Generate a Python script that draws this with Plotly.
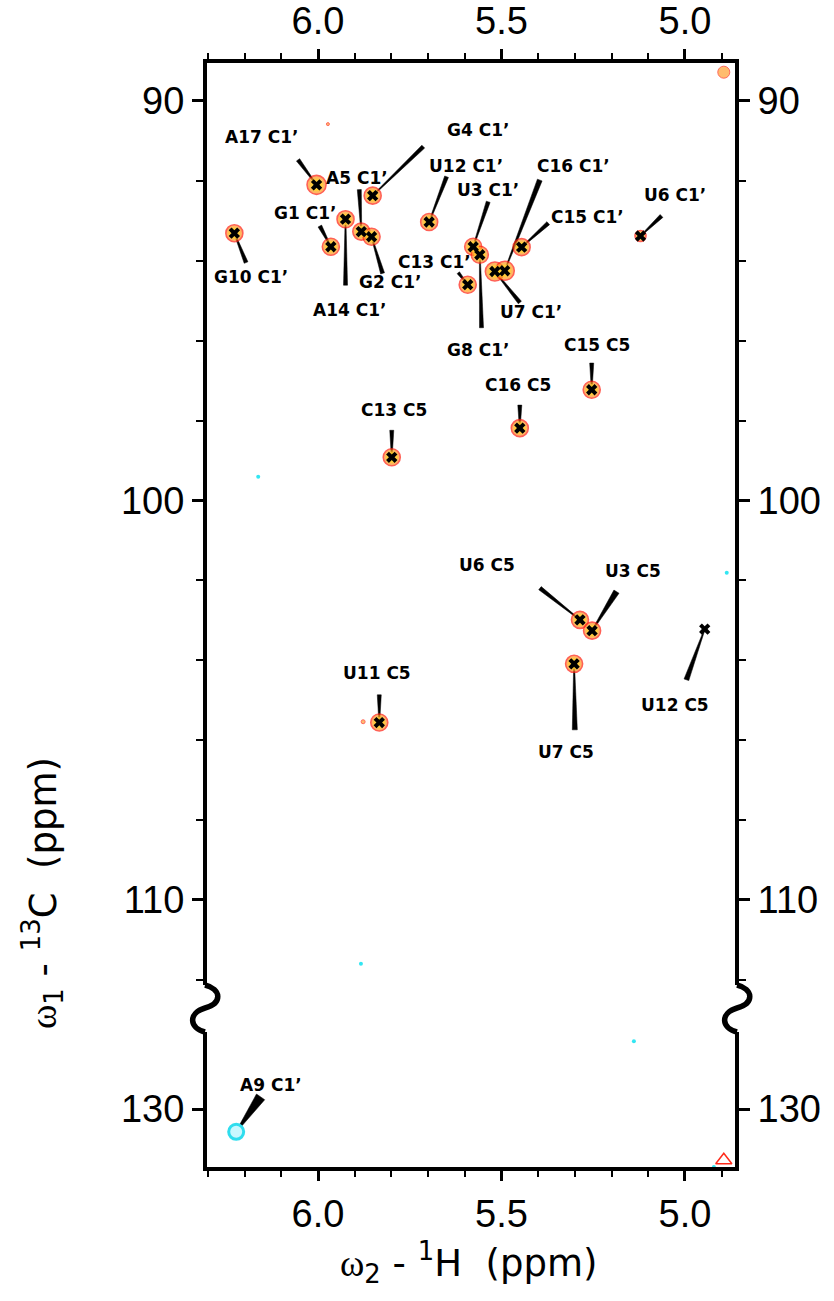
import plotly.graph_objects as go

# ---------------- data (ppm) ----------------
assigned_names = ["A17 C1’", "G4 C1’", "A14 C1’", "G1 C1’", "A5 C1’", "G2 C1’", "G10 C1’",
                  "U12 C1’", "U3 C1’", "G8 C1’", "C13 C1’", "U7 C1’", "C16 C1’", "C15 C1’",
                  "U6 C1’", "C15 C5", "C16 C5", "C13 C5", "U6 C5", "U3 C5", "U7 C5",
                  "U12 C5", "U11 C5"]
assigned_h = [6.004, 5.851, 5.925, 5.965, 5.882, 5.854, 6.228,
              5.697, 5.577, 5.559, 5.592, 5.518, 5.491, 5.445,
              5.121, 5.254, 5.450, 5.799, 5.286, 5.253, 5.302,
              4.946, 5.833]
assigned_c = [92.10, 92.37, 92.96, 93.65, 93.27, 93.40, 93.31,
              93.03, 93.65, 93.85, 94.60, 94.27, 94.25, 93.66,
              93.38, 97.23, 98.19, 98.92, 102.99, 103.26, 104.09,
              103.22, 105.56]

folded_names = ["A9 C1’"]
folded_h = [6.223]
folded_c = [130.57]

extra_pos_h = [4.894, 5.973, 5.877, 4.894]
extra_pos_c = [89.28, 90.58, 105.54, 131.28]
extra_neg_h = [6.163, 5.883, 4.886, 5.139, 4.921]
extra_neg_c = [99.41, 111.60, 101.81, 128.30, 131.45]

x_tick_vals = [6.0, 5.5, 5.0]
x_tick_text = ["6.0", "5.5", "5.0"]
y_tick_vals_upper = [90, 100, 110]
y_tick_vals_lower = [130]

# ---------------- layout geometry (pixels) ----------------
FIG_W, FIG_H = 834, 1301
L, R, T, B = 205, 737, 61, 1169
BREAK_TOP, BREAK_BOT = 985, 1032
X_RANGE = [6.308, 4.858]
UPPER_RANGE = [112.13, 89.0]
LOWER_RANGE = [131.5, 128.07]
PW, PH = R - L, B - T
upper_dom = [(B - BREAK_TOP) / PH, 1.0]
lower_dom = [0.0, (B - BREAK_BOT) / PH]


def pxx(X):
    return (X - L) / PW


def pxy(Y):
    return (B - Y) / PH


# label placement: label offset (dx, dy), wedge base offset (dx, dy), wedge base width (px)
label_style = {
    "A17 C1’": ((-55, -48), (-18.5, -25), 4),
    "G4 C1’": ((105, -66), (50.6, -49), 4),
    "A14 C1’": ((4, 91), (0, 66), 4),
    "G1 C1’": ((-26, -34), (-11, -20.7), 4),
    "A5 C1’": ((-4, -54), (-2, -42), 4),
    "G2 C1’": ((18, 45), (11, 36.6), 4),
    "G10 C1’": ((17, 44), (11.7, 29.4), 4),
    "U12 C1’": ((37, -56), (17.4, -45.3), 4),
    "U3 C1’": ((15, -57), (15, -45), 4),
    "G8 C1’": ((-2, 95), (1.7, 73), 4),
    "C13 C1’": ((-33, -23), (-9.4, -12), 3),
    "U7 C1’": ((36, 40), (25, 31), 4),
    "C16 C1’": ((69, -105), (35, -90.7), 5),
    "C15 C1’": ((66, -30), (26.6, -24), 4),
    "U6 C1’": ((34, -41), (21, -20), 4),
    "C15 C5": ((5, -45), (0, -26.7), 4),
    "C16 C5": ((-2, -43), (0, -23), 4),
    "C13 C5": ((2, -47), (0, -27), 4),
    "U6 C5": ((-93, -55), (-40, -31.7), 4),
    "U3 C5": ((41, -60), (24.4, -39), 6),
    "U7 C5": ((-8, 88), (0.7, 66), 5),
    "U12 C5": ((-30, 76), (-18.3, 50.7), 5),
    "U11 C5": ((-2, -50), (0, -27.7), 4),
    "A9 C1’": ((35, -47), (24.4, -35), 10),
}
blob_size = {"U6 C1’": 11, "U12 C5": 0, "A17 C1’": 19, "C16 C1’": 19, "U7 C1’": 19}

fig = go.Figure()

# ---- peak contours (blobs) ----
sizes = [blob_size.get(n, 17) for n in assigned_names]
fig.add_trace(go.Scatter(
    x=assigned_h, y=assigned_c, xaxis="x2", yaxis="y", mode="markers",
    marker=dict(symbol="circle", size=sizes, color="#FF9A1F",
                line=dict(color="#FF1E10", width=1.6)),
    hoverinfo="skip", showlegend=False))
fig.add_trace(go.Scatter(
    x=assigned_h, y=assigned_c, xaxis="x2", yaxis="y", mode="markers",
    marker=dict(symbol="circle", size=[s * 0.68 for s in sizes], color="#FFD52E",
                line=dict(width=0)),
    hoverinfo="skip", showlegend=False))
# unassigned positive contours
ep_up = [(h, c) for h, c in zip(extra_pos_h, extra_pos_c) if c < 120]
ep_lo = [(h, c) for h, c in zip(extra_pos_h, extra_pos_c) if c >= 120]
fig.add_trace(go.Scatter(
    x=[p[0] for p in ep_up], y=[p[1] for p in ep_up], xaxis="x2", yaxis="y", mode="markers",
    marker=dict(symbol="circle", size=[12, 3, 4], color="#FFA030",
                line=dict(color="#FF2A1A", width=1)),
    hoverinfo="skip", showlegend=False))
fig.add_trace(go.Scatter(
    x=[p[0] for p in ep_lo], y=[p[1] for p in ep_lo], xaxis="x", yaxis="y2", mode="markers",
    marker=dict(symbol="triangle-up-open", size=14, color="#FF2A1A",
                line=dict(color="#FF2A1A", width=1.5)),
    hoverinfo="skip", showlegend=False))
# negative (cyan) contours
en_up = [(h, c) for h, c in zip(extra_neg_h, extra_neg_c) if c < 120]
en_lo = [(h, c) for h, c in zip(extra_neg_h, extra_neg_c) if c >= 120]
fig.add_trace(go.Scatter(
    x=[p[0] for p in en_up], y=[p[1] for p in en_up], xaxis="x2", yaxis="y", mode="markers",
    marker=dict(symbol="circle", size=4, color="#33E6F2"),
    hoverinfo="skip", showlegend=False))
fig.add_trace(go.Scatter(
    x=[p[0] for p in en_lo], y=[p[1] for p in en_lo], xaxis="x", yaxis="y2", mode="markers",
    marker=dict(symbol="circle", size=4, color="#33E6F2"),
    hoverinfo="skip", showlegend=False))
fig.add_trace(go.Scatter(
    x=folded_h, y=folded_c, xaxis="x", yaxis="y2", mode="markers",
    marker=dict(symbol="circle", size=15, color="#C8F8FF",
                line=dict(color="#2FDDEE", width=3)),
    hoverinfo="skip", showlegend=False))

# ---- peak crosses ----
fig.add_trace(go.Scatter(
    x=assigned_h, y=assigned_c, xaxis="x2", yaxis="y", mode="markers",
    marker=dict(symbol="x", size=10, color="black", line=dict(width=0)),
    hoverinfo="skip", showlegend=False))

# invisible traces so that the mirrored right-hand axes are drawn
fig.add_trace(go.Scatter(x=[X_RANGE[0]], y=[UPPER_RANGE[0]], xaxis="x2", yaxis="y3",
                         mode="markers", marker=dict(opacity=0), hoverinfo="skip",
                         showlegend=False))
fig.add_trace(go.Scatter(x=[X_RANGE[0]], y=[LOWER_RANGE[0]], xaxis="x", yaxis="y4",
                         mode="markers", marker=dict(opacity=0), hoverinfo="skip",
                         showlegend=False))

# ---- labels + tapered leaders ----
shapes = []
annotations = []


def add_label(name, h, c, xref, yref):
    (ldx, ldy), (bdx, bdy), w = label_style[name]
    ln = (bdx ** 2 + bdy ** 2) ** 0.5
    nx, ny = -bdy / ln, bdx / ln
    tip = 0.4
    pts = [(nx * tip, ny * tip), (bdx + nx * w / 2, bdy + ny * w / 2),
           (bdx - nx * w / 2, bdy - ny * w / 2), (-nx * tip, -ny * tip)]
    path = "M " + " L ".join(f"{px:.2f},{-py:.2f}" for px, py in pts) + " Z"
    shapes.append(dict(type="path", xref=xref, yref=yref, xsizemode="pixel", ysizemode="pixel",
                       xanchor=h, yanchor=c, path=path, fillcolor="black",
                       line=dict(color="black", width=0.5), layer="below"))
    annotations.append(dict(x=h, y=c, xref=xref, yref=yref, text=f"<b>{name}</b>",
                            showarrow=False, xshift=ldx, yshift=-ldy,
                            xanchor="center", yanchor="middle",
                            font=dict(family="DejaVu Sans", size=17, color="black")))


for n, h, c in zip(assigned_names, assigned_h, assigned_c):
    add_label(n, h, c, "x2", "y")
for n, h, c in zip(folded_names, folded_h, folded_c):
    add_label(n, h, c, "x", "y2")

# ---- frame with axis breaks ----
LW = 4
frame_segments = [
    ((L - 2, T), (R + 2, T)), ((L - 2, B), (R + 2, B)),
    ((L, T - 2), (L, BREAK_TOP)), ((L, BREAK_BOT), (L, B + 2)),
    ((R, T - 2), (R, BREAK_TOP)), ((R, BREAK_BOT), (R, B + 2)),
]
for (x0, y0), (x1, y1) in frame_segments:
    shapes.append(dict(type="line", xref="paper", yref="paper",
                       x0=pxx(x0), y0=pxy(y0), x1=pxx(x1), y1=pxy(y1),
                       line=dict(color="black", width=LW)))
for X in (L, R):
    pts = [(X, BREAK_TOP), (X + 16, 989), (X + 18, 1003), (X, 1008),
           (X - 17, 1013), (X - 16, 1028), (X, BREAK_BOT)]
    p = [f"{pxx(a):.5f},{pxy(b):.5f}" for a, b in pts]
    path = f"M {p[0]} C {p[1]} {p[2]} {p[3]} C {p[4]} {p[5]} {p[6]}"
    shapes.append(dict(type="path", xref="paper", yref="paper", path=path,
                       line=dict(color="black", width=5.5)))

# ---- axis titles ----
title_font = dict(family="DejaVu Sans", size=37, color="black")
annotations.append(dict(
    xref="paper", yref="paper", x=pxx(468), y=pxy(1262), showarrow=False,
    xanchor="center", yanchor="middle",
    text="<span style='font-family:Liberation Serif'>ω</span><sub>2</sub> - <sup>1</sup>H\u00a0\u00a0(ppm)",
    font=title_font))
annotations.append(dict(
    xref="paper", yref="paper", x=pxx(42), y=pxy(893), showarrow=False, textangle=-90,
    xanchor="center", yanchor="middle",
    text="<span style='font-family:Liberation Serif'>ω</span><sub>1</sub> - <sup>13</sup>C\u00a0\u00a0(ppm)",
    font=title_font))

tickfont = dict(family="Liberation Sans", size=38, color="black")
xcommon = dict(range=X_RANGE, autorange=False, tickvals=x_tick_vals, ticktext=x_tick_text,
               ticks="outside", ticklen=11, tickwidth=3, tickcolor="black",
               minor=dict(dtick=0.1, tick0=0, ticks="outside", ticklen=7, tickwidth=2,
                          tickcolor="black", showgrid=False),
               showgrid=False, zeroline=False, showline=False, tickfont=tickfont,
               domain=[0, 1], automargin=False)
ycommon = dict(ticks="outside", ticklen=12, tickwidth=3, tickcolor="black",
               showgrid=False, zeroline=False, showline=False, tickfont=tickfont,
               autorange=False, automargin=False)
yminor = dict(dtick=2, tick0=0, ticks="outside", ticklen=8, tickwidth=2,
              tickcolor="black", showgrid=False)

fig.update_layout(
    width=FIG_W, height=FIG_H, autosize=False,
    margin=dict(l=L, r=FIG_W - R, t=T, b=FIG_H - B, pad=0, autoexpand=False),
    paper_bgcolor="white", plot_bgcolor="white", showlegend=False,
    xaxis=dict(**xcommon, anchor="y2", side="bottom"),
    xaxis2=dict(**xcommon, anchor="y", side="top"),
    yaxis=dict(**ycommon, domain=upper_dom, range=UPPER_RANGE, anchor="x2", side="left",
               tickvals=y_tick_vals_upper, minor=yminor),
    yaxis3=dict(**ycommon, range=UPPER_RANGE, overlaying="y", anchor="x2", side="right",
                tickvals=y_tick_vals_upper, minor=yminor),
    yaxis2=dict(**ycommon, domain=lower_dom, range=LOWER_RANGE, anchor="x", side="left",
                tickvals=y_tick_vals_lower),
    yaxis4=dict(**ycommon, range=LOWER_RANGE, overlaying="y2", anchor="x", side="right",
                tickvals=y_tick_vals_lower),
    shapes=shapes, annotations=annotations,
)

fig.write_html("out.html")
